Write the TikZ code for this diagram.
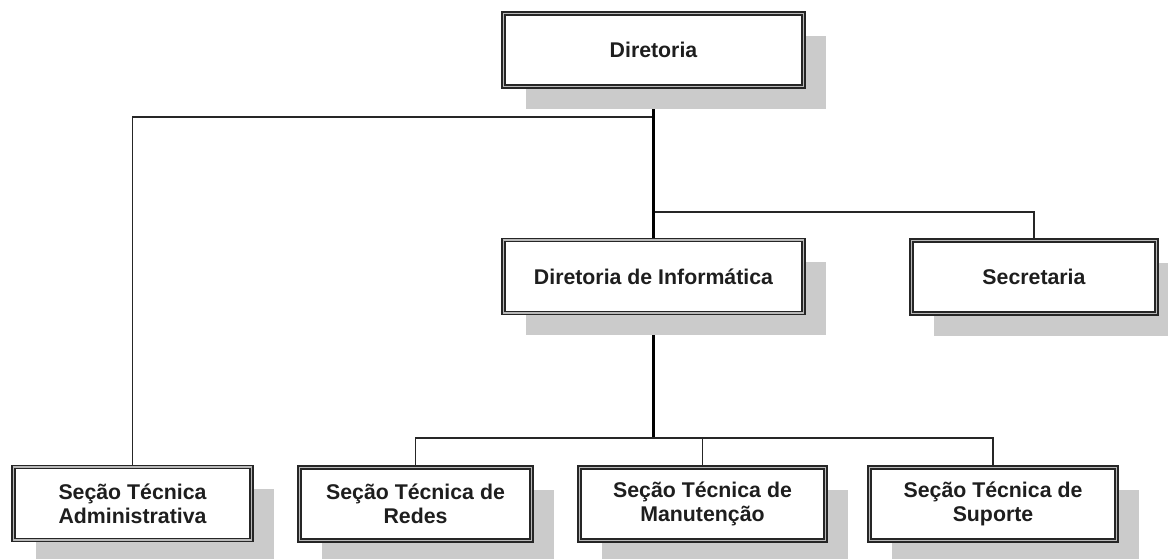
\documentclass[tikz,border=0pt]{standalone}
\usepackage{fontspec}
\setmainfont{Liberation Sans}
\usetikzlibrary{shadows}
\definecolor{edge}{HTML}{262626}
\definecolor{shadowc}{HTML}{CBCBCB}
\definecolor{txt}{HTML}{1E1E1E}
\tikzset{
  orgbox/.style={draw=edge, double=gray!55, line width=1.4pt, double distance=1.6pt,
    fill=white, rectangle, align=center, inner sep=0pt, text=txt,
    minimum height=73pt,
    font=\fontsize{21.3}{24}\selectfont\bfseries,
    drop shadow={shadow xshift=22pt, shadow yshift=-22pt, fill=shadowc, opacity=1}},
  conn/.style={draw=edge, line width=1.8pt},
  thick conn/.style={draw=black, line width=2.4pt}
}
\begin{document}
\begin{tikzpicture}[x=1pt,y=-1pt]
\useasboundingbox (0,0) rectangle (1168,558);
\coordinate (j1) at (653.5,117);
\coordinate (j2) at (653.5,212);
\coordinate (j3) at (653.5,438);
% connectors
\draw[conn] (j1) -| (132.5,465);
\draw[conn] (j2) -| (1034,239);
\draw[thick conn] (653.5,88) -- (j3);
\draw[conn] (415.5,466) |- (j3) -| (993,466);
\draw[conn] (j3 -| 702.5,0) -- (702.5,466);
% boxes
\node[orgbox, minimum width=300pt] (dir) at (653.5,50) {Diretoria};
\node[orgbox, minimum width=300pt] (di) at (653.5,276.5) {Diretoria de Informática};
\node[orgbox, minimum width=245pt] (sec) at (1034,277) {Secretaria};
\node[orgbox, minimum width=238pt] (adm) at (132.5,503.5) {Seção Técnica\\Administrativa};
\node[orgbox, minimum width=232pt] (redes) at (415.5,504) {Seção Técnica de\\Redes};
\node[orgbox, minimum width=246pt] (man) at (702.5,504) {Seção Técnica de\\Manutenção};
\node[orgbox, minimum width=247pt] (sup) at (993,504) {Seção Técnica de\\Suporte};
\end{tikzpicture}
\end{document}
